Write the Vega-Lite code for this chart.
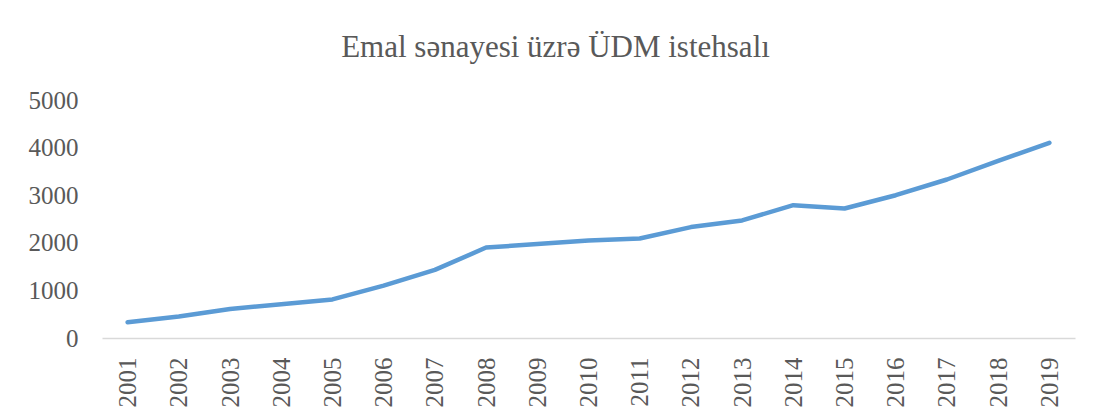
{
  "$schema": "https://vega.github.io/schema/vega-lite/v6.json",
  "autosize": {"type": "none"},
  "width": 973,
  "height": 238,
  "padding": {"left": 102, "top": 100, "right": 21, "bottom": 81},
  "background": "white",
  "title": {
    "text": "Emal sənayesi üzrə ÜDM istehsalı",
    "font": "Liberation Serif",
    "fontSize": 31,
    "fontWeight": "normal",
    "color": "#595959",
    "anchor": "middle",
    "dx": -33,
    "baseline": "alphabetic",
    "offset": 0
  },
  "data": {
    "values": [
      {"year": "2001", "value": 330},
      {"year": "2002", "value": 450},
      {"year": "2003", "value": 610},
      {"year": "2004", "value": 710},
      {"year": "2005", "value": 810},
      {"year": "2006", "value": 1100},
      {"year": "2007", "value": 1430},
      {"year": "2008", "value": 1900},
      {"year": "2009", "value": 1975},
      {"year": "2010", "value": 2050},
      {"year": "2011", "value": 2090},
      {"year": "2012", "value": 2330},
      {"year": "2013", "value": 2470},
      {"year": "2014", "value": 2790},
      {"year": "2015", "value": 2720},
      {"year": "2016", "value": 3000},
      {"year": "2017", "value": 3330},
      {"year": "2018", "value": 3720},
      {"year": "2019", "value": 4100}
    ]
  },
  "mark": {"type": "line", "color": "#5b9bd5", "strokeWidth": 4.5, "strokeCap": "round", "strokeJoin": "round"},
  "encoding": {
    "x": {
      "field": "year",
      "type": "ordinal",
      "scale": {"paddingInner": 0, "paddingOuter": 0.5},
      "axis": {
        "title": null,
        "labelAngle": -90,
        "labelFont": "Liberation Serif",
        "labelFontSize": 25,
        "labelColor": "#595959",
        "labelPadding": 19,
        "ticks": false,
        "domainColor": "#d9d9d9",
        "domainWidth": 1.5,
        "grid": false
      }
    },
    "y": {
      "field": "value",
      "type": "quantitative",
      "scale": {"domain": [0, 5000], "nice": false},
      "axis": {
        "title": null,
        "values": [0, 1000, 2000, 3000, 4000, 5000],
        "format": "d",
        "labelFont": "Liberation Serif",
        "labelFontSize": 25,
        "labelColor": "#595959",
        "labelPadding": 24,
        "ticks": false,
        "domain": false,
        "grid": false
      }
    }
  },
  "config": {"view": {"stroke": null}}
}
